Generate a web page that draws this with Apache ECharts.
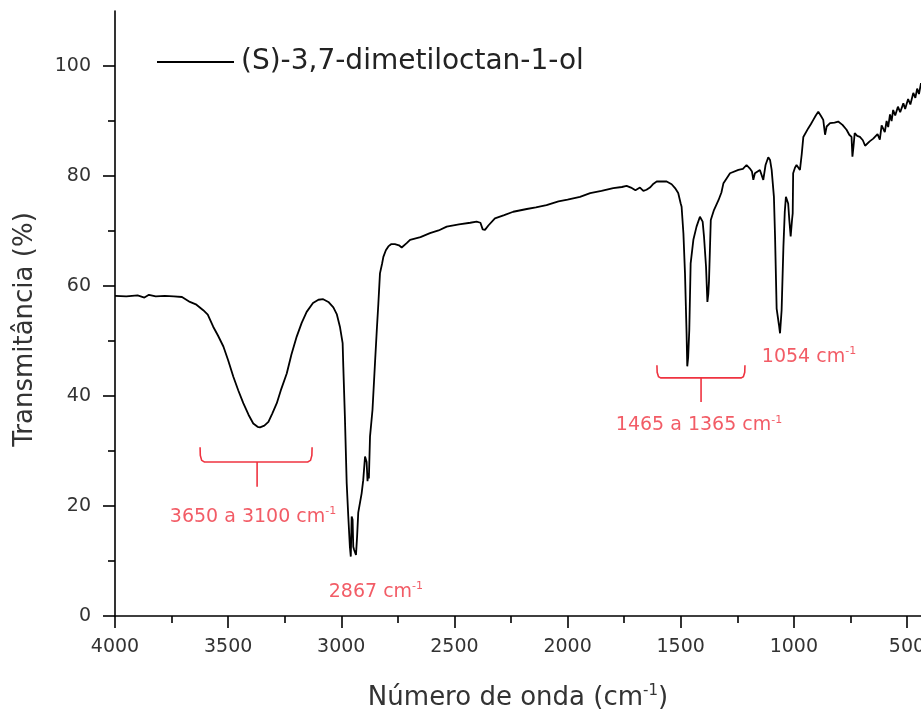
<!doctype html>
<html>
<head>
  <meta charset="utf-8">
  <script src="https://cdn.jsdelivr.net/npm/echarts@6/dist/echarts.min.js"></script>
  <style>
    html, body { margin: 0; padding: 0; background: #fff; }
    #ir { width: 921px; height: 709px; }
  </style>
</head>
<body>
<div id="ir"></div>
<script>
// IR spectrum: wavenumber (cm-1) and transmittance (%)
var waveNumbers = [4000,3950,3900,3870,3850,3820,3780,3740,3704,3669,3640,3610,3590,3566,3545,3521,3500,3477,3455,3433,3410,3389,3370,3359,3340,3322,3305,3285,3265,3241,3220,3197,3175,3153,3125,3101,3080,3057,3035,3020,3006,2994,2991,2984,2976,2969,2962,2958,2954,2950,2947,2943,2935,2930,2925,2910,2903,2895,2888,2884,2881,2878,2873,2862,2851,2843,2836,2829,2820,2814,2803,2792,2780,2763,2745,2733,2726,2711,2696,2650,2608,2570,2534,2480,2430,2402,2385,2375,2365,2350,2321,2280,2240,2180,2140,2093,2040,2000,1945,1900,1850,1798,1760,1739,1720,1700,1680,1665,1651,1636,1620,1606,1577,1562,1540,1525,1511,1500,1496,1488,1481,1474,1471,1467,1462,1456,1444,1430,1415,1403,1397,1388,1382,1378,1375,1373,1367,1353,1333,1320,1311,1295,1282,1245,1225,1209,1195,1185,1179,1172,1165,1150,1135,1125,1113,1105,1098,1088,1083,1076,1066,1061,1054,1046,1040,1035,1025,1020,1014,1008,1005,1003,995,988,973,965,958,950,936,925,914,903,892,880,870,862,855,840,820,804,785,767,755,745,741,736,731,720,708,695,685,679,665,649,630,620,612,605,598,590,583,575,568,561,552,540,530,516,508,495,485,472,463,455,447,438];
var transmittance = [58.2,58.1,58.3,57.9,58.4,58.1,58.2,58.1,58.0,57.1,56.6,55.6,54.8,52.6,51.0,49.0,46.5,43.5,41.0,38.7,36.6,35.0,34.4,34.3,34.6,35.3,36.8,38.7,41.3,44.1,47.6,50.8,53.3,55.3,56.9,57.5,57.6,57.1,56.1,54.9,52.6,49.6,45.3,36.2,24.1,18.1,12.6,10.8,18.1,17.5,12.6,12.0,11.1,14.5,18.8,22.3,24.7,29.0,28.0,24.5,26.0,25.0,32.6,37.5,46.0,52.0,56.9,62.3,64.0,65.3,66.5,67.2,67.6,67.6,67.4,67.0,66.8,67.8,68.4,68.9,69.6,70.1,70.8,71.2,71.5,71.7,71.5,70.3,70.2,71.0,72.3,72.9,73.5,74.0,74.3,74.7,75.4,75.7,76.2,76.9,77.3,77.8,78.0,78.2,77.9,77.4,77.9,77.3,77.5,77.9,78.6,79.0,79.0,79.0,78.5,77.8,76.9,75.0,74.4,69.6,62.3,51.4,45.4,47.0,52.0,64.1,68.4,70.8,72.6,71.7,69.0,63.5,57.1,58.5,60.8,60.5,72.0,73.8,75.6,77.0,78.7,79.7,80.5,81.1,81.3,82.0,81.4,80.8,79.3,80.5,80.5,81.1,79.3,82.0,83.4,82.9,81.1,76.2,69.0,55.9,53.0,51.4,55.6,67.2,73.5,76.2,75.0,72.0,69.0,72.0,73.2,80.5,81.5,82.0,81.1,84.0,87.1,87.4,88.7,89.4,90.2,91.0,91.7,90.9,90.2,87.5,89.0,89.6,89.7,89.9,89.3,88.4,87.5,87.1,83.5,85.5,87.8,87.3,87.1,86.5,85.5,85.6,86.3,86.8,87.6,86.6,89.2,88.9,88.0,90.0,88.9,91.2,90.0,92.0,91.0,92.6,91.6,93.2,92.2,94.0,93.0,95.1,94.2,95.9,94.9,96.9];

var seriesName = '(S)-3,7-dimetiloctan-1-ol';

// axis ticks
var xMajorTicks = [4000,3500,3000,2500,2000,1500,1000,500];
var xMinorTicks = [3750,3250,2750,2250,1750,1250,750];
var yMajorTicks = [0,20,40,60,80,100];
var yMinorTicks = [10,30,50,70,90];

// red annotations (data coordinates)
var bracketOH = [[3624,30.7],[3623,29.2],[3617,28.3],[3605,28.0],[3148,28.0],[3136,28.3],[3130,29.2],[3129,30.7]];
var stemOH = [[3372,28.0],[3372,23.5]];
var bracketCH = [[1605,45.6],[1604,44.3],[1598,43.5],[1588,43.3],[1233,43.3],[1223,43.5],[1217,44.3],[1216,45.6]];
var stemCH = [[1410,43.3],[1410,38.9]];
var noteTexts = ['3650 a 3100 cm', '2867 cm', '1465 a 1365 cm', '1054 cm'];
var noteAnchors = [[3390,18.0],[2847,4.4],[1419,34.7],[933,47.1]];

var RED = '#ef3340';
var FONT = 'DejaVu Sans';

var spectrum = waveNumbers.map(function (w, i) { return [w, transmittance[i]]; });
var notes = noteAnchors.map(function (p, i) { return { value: p, txt: noteTexts[i] }; });
function plain(v) { return String(v); }

var chart = echarts.init(document.getElementById('ir'));

var option = {
  animation: false,
  backgroundColor: '#fff',
  grid: { left: 115, right: 0, top: 11, bottom: 93, containLabel: false, outerBoundsMode: 'none' },
  legend: {
    data: [{ name: seriesName, icon: 'rect' }],
    left: 152,
    top: 43,
    itemWidth: 77,
    itemHeight: 2,
    itemGap: 8,
    textStyle: { fontFamily: FONT, fontSize: 28, color: '#222', padding: [0, 0, 0, 2] }
  },
  xAxis: [
    {
      type: 'value',
      min: 438,
      max: 4000,
      inverse: true,
      name: '{t|Número de onda (cm}{s|-1}{t|)}',
      nameLocation: 'middle',
      nameGap: 68,
      nameTextStyle: {
        rich: {
          t: { fontFamily: FONT, fontSize: 26, color: '#333', lineHeight: 28 },
          s: { fontFamily: FONT, fontSize: 15, color: '#333', lineHeight: 15, verticalAlign: 'top' }
        }
      },
      axisLine: { lineStyle: { color: '#000', width: 1.6 } },
      axisTick: { customValues: xMajorTicks, length: 12, lineStyle: { color: '#000', width: 1.6 } },
      axisLabel: { customValues: xMajorTicks, formatter: plain, margin: 22, fontFamily: FONT, fontSize: 19, color: '#333' },
      splitLine: { show: false }
    },
    {
      type: 'value',
      min: 438,
      max: 4000,
      inverse: true,
      position: 'bottom',
      axisLine: { show: false },
      axisTick: { customValues: xMinorTicks, length: 7, lineStyle: { color: '#000', width: 1.6 } },
      axisLabel: { show: false },
      splitLine: { show: false }
    }
  ],
  yAxis: [
    {
      type: 'value',
      min: 0,
      max: 110,
      name: 'Transmitância (%)',
      nameLocation: 'middle',
      nameGap: 77,
      nameTextStyle: { fontFamily: FONT, fontSize: 26, color: '#333', padding: [0, 32, 0, 0] },
      axisLine: { show: true, lineStyle: { color: '#000', width: 1.6 } },
      axisTick: { show: true, customValues: yMajorTicks, length: 12, lineStyle: { color: '#000', width: 1.6 } },
      axisLabel: { customValues: yMajorTicks, formatter: plain, margin: 24, fontFamily: FONT, fontSize: 19, color: '#333' },
      splitLine: { show: false }
    },
    {
      type: 'value',
      min: 0,
      max: 110,
      position: 'left',
      axisLine: { show: false },
      axisTick: { show: true, customValues: yMinorTicks, length: 7, lineStyle: { color: '#000', width: 1.6 } },
      axisLabel: { show: false },
      splitLine: { show: false }
    }
  ],
  series: [
    {
      name: seriesName,
      type: 'line',
      data: spectrum,
      symbol: 'none',
      lineStyle: { color: '#000', width: 1.8 },
      itemStyle: { color: '#000' }
    },
    {
      type: 'lines',
      coordinateSystem: 'cartesian2d',
      polyline: true,
      silent: true,
      lineStyle: { color: RED, width: 1.6, opacity: 1 },
      data: [
        { coords: bracketOH },
        { coords: stemOH },
        { coords: bracketCH },
        { coords: stemCH }
      ]
    },
    {
      type: 'scatter',
      symbolSize: 0,
      silent: true,
      data: notes,
      label: {
        show: true,
        position: 'inside',
        formatter: function (p) { return '{t|' + p.data.txt + '}{s|-1}'; },
        rich: {
          t: { fontFamily: FONT, fontSize: 19, color: RED, lineHeight: 22 },
          s: { fontFamily: FONT, fontSize: 11, color: RED, lineHeight: 11, verticalAlign: 'top' }
        }
      }
    }
  ]
};

chart.setOption(option);
</script>
</body>
</html>
